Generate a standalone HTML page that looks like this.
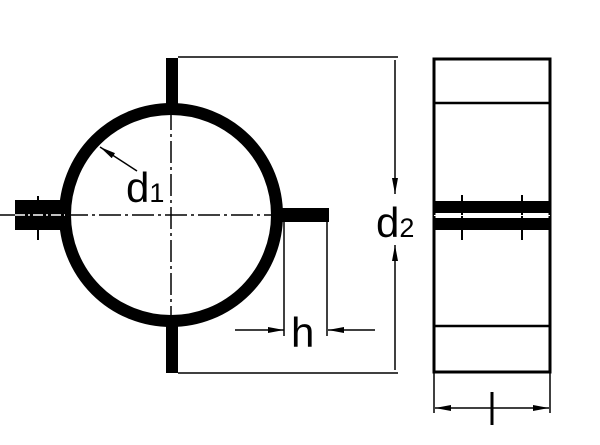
<!DOCTYPE html>
<html><head><style>body{margin:0;background:#fff}svg{display:block}</style></head><body>
<svg width="600" height="445" viewBox="0 0 600 445" xmlns="http://www.w3.org/2000/svg">
<defs>
<marker id="b" viewBox="0 0 16 6" refX="16" refY="3" markerWidth="16" markerHeight="6" markerUnits="userSpaceOnUse" orient="auto"><path d="M0,0L16,3L0,6z" fill="#000"/></marker>
</defs>
<g fill="#000">
<rect x="166" y="58" width="12" height="48"/>
<rect x="166" y="324" width="12" height="49"/>
<rect x="281" y="208" width="48" height="14"/>
<rect x="15" y="200" width="50" height="30"/>
<rect x="434" y="201" width="116" height="12"/>
<rect x="434" y="218" width="116" height="12"/>
</g>
<circle cx="171" cy="215" r="106" fill="none" stroke="#000" stroke-width="12"/>
<g stroke="#000" stroke-width="1.5" fill="none">
<line x1="0" y1="215" x2="284" y2="215" stroke-dasharray="22,4,3,4"/>
<line x1="171" y1="108" x2="171" y2="322" stroke-dasharray="22,4,3,4"/>
<line x1="38" y1="196" x2="38" y2="240" stroke-width="2"/>
<line x1="178" y1="57" x2="398" y2="57"/>
<line x1="178" y1="373" x2="398" y2="373"/>
<line x1="395" y1="60" x2="395" y2="194" marker-end="url(#b)"/>
<line x1="395" y1="370" x2="395" y2="245" marker-end="url(#b)"/>
<line x1="284" y1="222" x2="284" y2="336"/>
<line x1="327" y1="222" x2="327" y2="336"/>
<line x1="235" y1="330" x2="284" y2="330" marker-end="url(#b)"/>
<line x1="375" y1="330" x2="328" y2="330" marker-end="url(#b)"/>
<line x1="137" y1="171" x2="100" y2="147" marker-end="url(#b)"/>
<line x1="434" y1="372" x2="434" y2="413"/>
<line x1="550" y1="372" x2="550" y2="413"/>
<line x1="492" y1="408" x2="435" y2="408" marker-end="url(#b)"/>
<line x1="492" y1="408" x2="549" y2="408" marker-end="url(#b)"/>
<line x1="492" y1="392" x2="492" y2="425" stroke-width="3"/>
<rect x="434" y="59" width="116" height="313" stroke-width="3"/>
<line x1="434" y1="103" x2="550" y2="103" stroke-width="2.5"/>
<line x1="434" y1="326" x2="550" y2="326" stroke-width="2.5"/>
<line x1="462" y1="195" x2="462" y2="240" stroke-width="2"/>
<line x1="522" y1="195" x2="522" y2="240" stroke-width="2"/>
</g>
<line x1="15" y1="215" x2="65" y2="215" stroke="#fff" stroke-width="1.5" stroke-dasharray="10,3,2,3"/>
<line x1="434" y1="215.5" x2="550" y2="215.5" stroke="#fff" stroke-width="1"/>
<g font-family="Liberation Sans, sans-serif" fill="#000">
<text x="126" y="202" font-size="42">d<tspan font-size="27">1</tspan></text>
<text x="376" y="237" font-size="42">d<tspan font-size="27">2</tspan></text>
<text x="291" y="347" font-size="42">h</text>
</g>
</svg>
</body></html>
